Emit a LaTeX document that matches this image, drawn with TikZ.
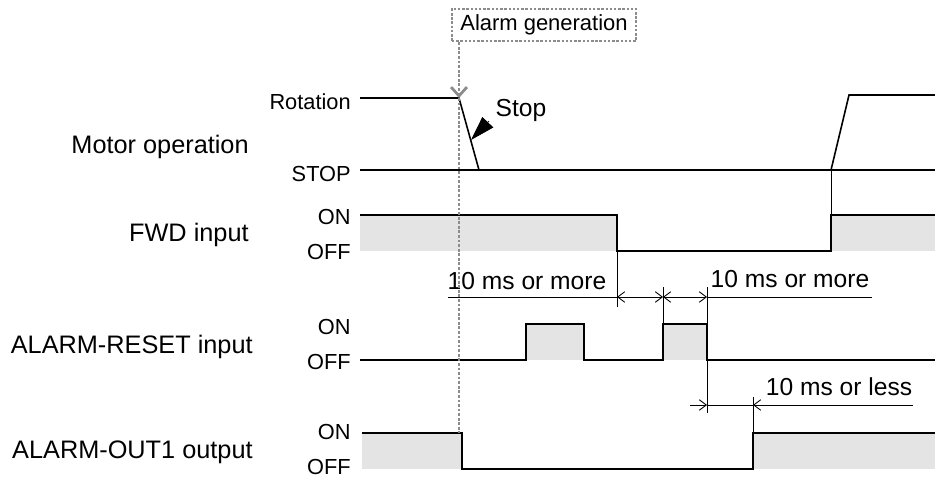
\documentclass[tikz,border=0pt]{standalone}
\usepackage{fontspec}
\setmainfont{Liberation Sans}
\usetikzlibrary{positioning, calc, arrows.meta}
\definecolor{shade}{RGB}{228, 228, 228}
\definecolor{trigger}{RGB}{140, 140, 140}

\begin{document}
\begin{tikzpicture}[x=0.02cm, y=-0.02cm, every node/.style={font=\fontsize{14}{16}\selectfont}]
    \tikzstyle{sigline} = [line width=0.9pt, line join=miter]
    \tikzstyle{onfill} = [fill=shade, draw=none]
    \tikzstyle{guideline} = [line width=0.5pt]
    \tikzstyle{dimarrow} = [line width=0.5pt, {Straight Barb[length=4pt, width=6pt]}-{Straight Barb[length=4pt, width=6pt]}]
    \tikzstyle{rowlabel} = [anchor=east, inner sep=0pt, font=\fontsize{14.4}{17}\selectfont]
    \tikzstyle{levellabel} = [anchor=east, inner sep=0pt, font=\fontsize{12.4}{15}\selectfont]
    \tikzstyle{alarmbox} = [draw=trigger, densely dotted, line width=1.4pt, inner xsep=0.17cm, minimum height=0.56cm, font=\fontsize{12.5}{14}\selectfont]
    \tikzstyle{alarmtrace} = [draw=trigger, densely dotted, line width=1.6pt]

    \useasboundingbox (0,0) rectangle (935,477);

    % Nodes
    \node (alarm) [alarmbox] at (544,25) {Alarm generation};
    \node (motor) [rowlabel] at (249,147) {Motor operation};
    \node (fwd) [rowlabel] at (249,235) {FWD input};
    \node (reset) [rowlabel] at (253,347) {ALARM-RESET input};
    \node (out) [rowlabel] at (253,452) {ALARM-OUT1 output};
    \node (rot) [levellabel] at (351,102) {Rotation};
    \node (stopl) [levellabel] at (351,174) {STOP};
    \node (fwdon) [levellabel] at (351,217) {ON};
    \node (fwdoff) [levellabel] at (351,252) {OFF};
    \node (rston) [levellabel] at (351,327) {ON};
    \node (rstoff) [levellabel] at (351,362) {OFF};
    \node (outon) [levellabel] at (351,432) {ON};
    \node (outoff) [levellabel] at (351,467) {OFF};
    \node (stop) at (521,110) {Stop};
    \node (more1) at (527,281) {10 ms or more};
    \node (more2) at (790,279) {10 ms or more};
    \node (less) at (839,387) {10 ms or less};

    % Coordinates
    \coordinate (trig) at (459,98);
    \coordinate (fall) at (617,297);
    \coordinate (rise) at (663,297);
    \coordinate (clear) at (707,297);
    \coordinate (back) at (753,405);

    % Shaded ON levels
    \fill[onfill] (360,215) rectangle (617,251);
    \fill[onfill] (831,215) rectangle (935,251);
    \fill[onfill] (526,324) rectangle (584,360);
    \fill[onfill] (663,324) rectangle (707,360);
    \fill[onfill] (362,433) rectangle (462,469);
    \fill[onfill] (753,433) rectangle (935,469);

    % Signals
    \draw[sigline] (rot.east) ++(9,-4) -- (trig) -- (479,170);
    \draw[sigline] (stopl.east) ++(9,-4) -- (935,170);
    \draw[sigline] (831,170) -- (849,95) -- (935,95);
    \draw[sigline] (fwdon.east) ++(9,-2) -- (617,215) -- (617,251) -- (831,251) -- (831,215) -- (935,215);
    \draw[sigline] (rstoff.east) ++(9,-2) -- (526,360) -- (526,324) -- (584,324) -- (584,360) -- (663,360) -- (663,324) -- (707,324) -- (707,360) -- (935,360);
    \draw[sigline] (outon.east) ++(11,1) -- (462,433) -- (462,469) -- (753,469) -- (753,433) -- (935,433);
    \draw[guideline] (831,170) -- (831,215);

    % Alarm trace
    \draw[alarmtrace, -{Straight Barb[length=5pt, width=9pt]}] (alarm.south -| trig) -- (trig);
    \draw[alarmtrace] (trig) -- (459,433);
    \draw[-{Triangle[length=0.49cm, width=0.3cm]}] (489,121) -- (471,140);

    % Timing
    \draw[guideline] (617,251) -- (617,307);
    \draw[guideline] (rise) ++(0,-10) -- (663,324);
    \draw[guideline] (clear) ++(0,-10) -- (707,413);
    \draw[guideline] (753,397) -- (753,433);
    \draw[guideline] (448,297) -- (fall);
    \draw[dimarrow] (fall) -- (rise);
    \draw[dimarrow] (rise) -- (clear);
    \draw[guideline] (clear) -- (872,297);
    \draw[guideline, -{Straight Barb[length=4pt, width=6pt]}] (690,405) -- (707,405);
    \draw[guideline] (707,405) -- (back);
    \draw[guideline, -{Straight Barb[length=4pt, width=6pt]}] (913,405) -- (back);
\end{tikzpicture}
\end{document}
